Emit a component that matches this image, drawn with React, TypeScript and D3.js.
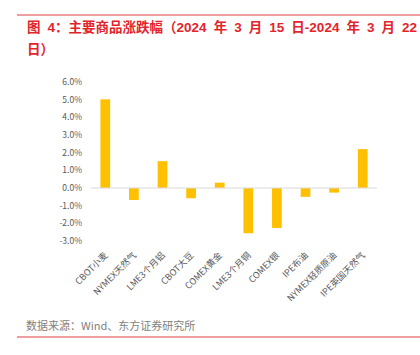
import React from "react";
import * as d3 from "d3";

const categories = ["CBOT小麦", "NYMEX天然气", "LME3个月铝", "CBOT大豆", "COMEX黄金", "LME3个月铜", "COMEX银", "IPE布油", "NYMEX轻质原油", "IPE英国天然气"];
const values = [5.02, -0.68, 1.52, -0.58, 0.3, -2.56, -2.26, -0.5, -0.26, 2.2];
const yTicks = [6, 5, 4, 3, 2, 1, 0, -1, -2, -3];
const titleLine1 = "图 4：主要商品涨跌幅（2024 年 3 月 15 日-2024 年 3 月 22";
const titleLine2 = "日）";
const sourceText = "数据来源：Wind、东方证券研究所";

export default function App() {
  const W = 420, H = 355;
  const x = d3.scaleBand<string>().domain(categories).range([91, 377]).paddingInner(0.66).paddingOuter(0.33);
  const y = d3.scaleLinear().domain([-3, 6]).range([241, 82]);
  const font = "'Noto Sans CJK SC', 'Noto Sans', sans-serif";
  const titleFont = "'Liberation Sans', 'Noto Sans CJK SC', sans-serif";
  const red = "#e3242b";
  return (
    <svg width={W} height={H} style={{ position: "absolute", left: 0, top: 0 }} fontFamily={font}>
      <rect width={W} height={H} fill="#fff" />
      <line x1={17} x2={W} y1={15} y2={15} stroke="#ec7c7f" strokeWidth={1.5} />
      <text x={27} y={32} fill={red} fontSize={13.5} fontWeight="bold" fontFamily={titleFont} wordSpacing={3.3} style={{ whiteSpace: "pre" }}>{titleLine1}</text>
      <text x={27} y={54} fill={red} fontSize={13.5} fontWeight="bold" fontFamily={titleFont}>{titleLine2}</text>
      {yTicks.map((t) => (
        <text key={t} x={82} y={y(t)} dy="0.35em" textAnchor="end" fontSize={8.5} fill="#595959">{t.toFixed(1) + "%"}</text>
      ))}
      {categories.map((c, i) => {
        const v = values[i];
        const y0 = y(0), y1 = y(v);
        return (
          <rect key={c} x={x(c)} y={Math.min(y0, y1)} width={x.bandwidth()} height={Math.abs(y1 - y0)} fill="#ffc000" />
        );
      })}
      <line x1={91} x2={377} y1={y(0)} y2={y(0)} stroke="#d9d9d9" strokeWidth={1} />
      {categories.map((c) => {
        const cx = (x(c) as number) + x.bandwidth() / 2 + 3;
        return (
          <text key={c} transform={`translate(${cx},256) rotate(-45)`} textAnchor="end" fontSize={9} fill="#595959">{c}</text>
        );
      })}
      <text x={26} y={330} fontSize={11} fill="#7f7f7f">{sourceText}</text>
      <line x1={17} x2={W} y1={337} y2={337} stroke="#ec7c7f" strokeWidth={1.5} />
    </svg>
  );
}
